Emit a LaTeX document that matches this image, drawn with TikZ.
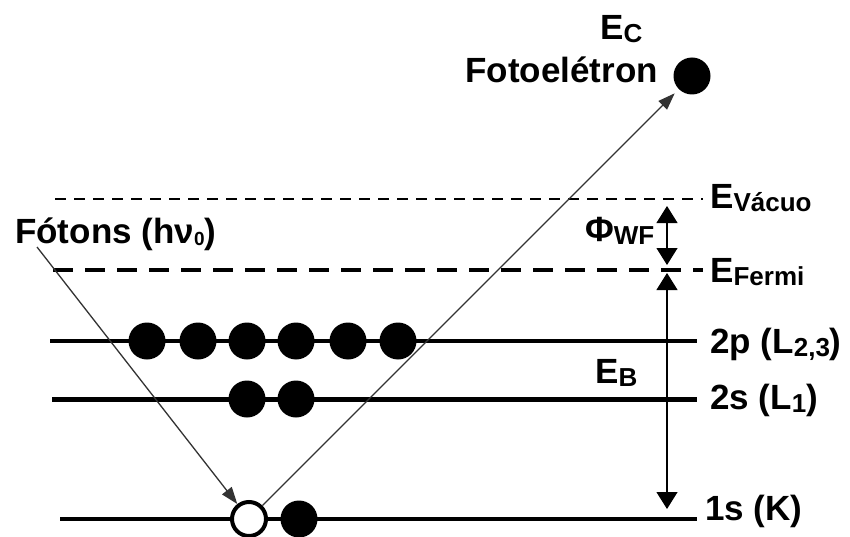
\documentclass[tikz,border=0pt]{standalone}
\usepackage{fontspec}
\setmainfont{Liberation Sans}
\usetikzlibrary{arrows.meta}
\newcommand{\bigtxt}{\fontsize{35}{35}\selectfont\bfseries}
\newcommand{\subtxt}[1]{\raisebox{-3pt}{\fontsize{26}{26}\selectfont\bfseries #1}}
\newcommand{\tinysub}[1]{\raisebox{-2pt}{\fontsize{19}{19}\selectfont\bfseries #1}}
\begin{document}
\begin{tikzpicture}[x=1pt,y=-1pt,
  lbl/.style={anchor=base west,inner sep=0pt,font=\bigtxt},
  elec/.style={circle,fill=black,minimum size=37pt,inner sep=0pt,outer sep=0pt},
  hole/.style={circle,draw=black,line width=4pt,fill=white,minimum size=34pt,inner sep=0pt,outer sep=2pt},
  level/.style={line width=#1},
  thinarrow/.style={line width=1.3pt,draw=black!80,-{Triangle[length=17pt,width=12pt]}},
  energyarrow/.style={line width=1.2pt,{Triangle[length=17pt,width=21pt]}-{Triangle[length=17pt,width=21pt]}}
]
\useasboundingbox (0,0) rectangle (850,537);
\fill[white] (0,0) rectangle (850,537);

% energy levels
\coordinate (vacL) at (55,199);
\coordinate (vacR) at (703,199);
\coordinate (ferL) at (53,270);
\coordinate (ferR) at (703,270);
\coordinate (ptL) at (50,341);
\coordinate (ptR) at (697,341);
\coordinate (stL) at (52,399);
\coordinate (stR) at (697,399);
\coordinate (ksL) at (60,519);
\coordinate (ksR) at (697,519);

\draw[line width=2.6pt,dash pattern=on 11pt off 8pt] (vacL) -- (vacR);
\draw[line width=3.2pt,dash pattern=on 20pt off 12pt] (ferL) -- (ferR);
\draw[level=3.8pt] (ptL) -- (ptR);
\draw[level=5pt] (stL) -- (stR);
\draw[level=4.5pt] (ksL) -- (ksR);

% electrons
\foreach \i/\x in {1/147,2/198,3/247,4/296,5/348,6/398}
  \node[elec] (p\i) at (\x,341) {};
\node[elec] (s1) at (247,399) {};
\node[elec] (s2) at (296,399) {};
\node[hole] (h) at (249,519) {};
\node[elec] (k2) at (299,519) {};
\node[elec] (pe) at (692,76) {};

% photon and photoelectron
\coordinate (phs) at (37,247);
\draw[thinarrow] (phs) -- (h);
\draw[thinarrow,shorten >=6pt] (h) -- (pe);

% energy arrows
\coordinate (wfT) at (667,206);
\coordinate (wfB) at (667,265);
\coordinate (ebT) at (667,273);
\coordinate (ebB) at (667,509);
\draw[energyarrow] (wfB) -- (wfT);
\draw[energyarrow] (ebT) -- (ebB);

% labels
\node[lbl] (ec) at (600,40) {E\subtxt{C}};
\node[lbl,anchor=base east] (fe) at (658,83) {Fotoelétron};
\node[lbl] (ev) at (710,208) {E\subtxt{Vácuo}};
\node[lbl] (wf) at (585,241) {Φ\subtxt{WF}};
\node[lbl] (ef) at (710,282) {E\subtxt{Fermi}};
\node[lbl] (l2p) at (710,353) {2p (L\subtxt{2,3})};
\node[lbl] (eb) at (595,383) {E\subtxt{B}};
\node[lbl] (l2s) at (710,409) {2s (L\subtxt{1})};
\node[lbl] (l1s) at (705,520) {1s (K)};
\node[lbl] (fot) at (15,243) {Fótons (hν\tinysub{0})};
\end{tikzpicture}
\end{document}
